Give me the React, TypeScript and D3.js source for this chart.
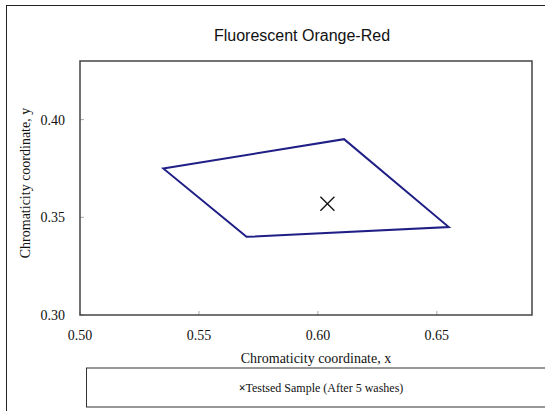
import * as d3 from "d3";

// CIE chromaticity boundary for the colour (closed polygon)
const boundaryX = [0.535, 0.611, 0.655, 0.57];
const boundaryY = [0.375, 0.39, 0.345, 0.34];

// tested sample after 5 washes
const sampleX = [0.604];
const sampleY = [0.357];

const xTicks = [0.5, 0.55, 0.6, 0.65];
const yTicks = [0.3, 0.35, 0.4];

const W = 545;
const H = 411;
const PLOT = { left: 80, right: 532, top: 61, bottom: 315 };
const SERIF = "'Liberation Serif', 'Times New Roman', serif";
const SANS = "'Liberation Sans', Arial, sans-serif";
const NAVY = "#1f1f86";

export default function App() {
  const x = d3.scaleLinear().domain([0.5, 0.69]).range([PLOT.left, PLOT.right]);
  const y = d3.scaleLinear().domain([0.3, 0.43]).range([PLOT.bottom, PLOT.top]);

  const pts: [number, number][] = boundaryX.map((v, i) => [x(v), y(boundaryY[i])]);
  const line = d3.line().curve(d3.curveLinearClosed);

  const midY = (PLOT.top + PLOT.bottom) / 2;

  return (
    <svg
      width={W}
      height={H}
      style={{ position: "fixed", left: 0, top: 0, background: "#fff" }}
    >
      {/* outer frame, runs off the right and bottom edge */}
      <rect x={6.5} y={5.5} width={W + 10} height={H + 10} fill="none" stroke="#222" />

      <text
        x={302}
        y={41}
        textAnchor="middle"
        style={{ font: `16px ${SANS}` }}
        fill="#111"
      >
        Fluorescent Orange-Red
      </text>

      {/* ticks, drawn inward */}
      {xTicks.map((t) => (
        <g key={`xt-${t}`}>
          <line x1={x(t)} x2={x(t)} y1={PLOT.bottom} y2={PLOT.bottom - 4} stroke="#aaa" />
          <text
            x={x(t)}
            y={PLOT.bottom + 25}
            textAnchor="middle"
            style={{ font: `14px ${SERIF}` }}
            fill="#111"
          >
            {t.toFixed(2)}
          </text>
        </g>
      ))}
      {yTicks.map((t) => (
        <g key={`yt-${t}`}>
          <line x1={PLOT.left} x2={PLOT.left + 4} y1={y(t)} y2={y(t)} stroke="#aaa" />
          <text
            x={PLOT.left - 15}
            y={y(t)}
            dy="0.35em"
            textAnchor="end"
            style={{ font: `14px ${SERIF}` }}
            fill="#111"
          >
            {t.toFixed(2)}
          </text>
        </g>
      ))}

      <rect
        x={PLOT.left}
        y={PLOT.top}
        width={PLOT.right - PLOT.left}
        height={PLOT.bottom - PLOT.top}
        fill="none"
        stroke="#444"
        strokeWidth={1.5}
      />

      <path d={line(pts) ?? ""} fill="none" stroke={NAVY} strokeWidth={2} />

      {sampleX.map((v, i) => {
        const cx = x(v);
        const cy = y(sampleY[i]);
        const s = 7;
        return (
          <g key={`s-${i}`} stroke="#111" strokeWidth={1.4}>
            <line x1={cx - s} y1={cy - s} x2={cx + s} y2={cy + s} />
            <line x1={cx - s} y1={cy + s} x2={cx + s} y2={cy - s} />
          </g>
        );
      })}

      <text
        x={(PLOT.left + PLOT.right) / 2 + 10}
        y={363}
        textAnchor="middle"
        style={{ font: `14px ${SERIF}` }}
        fill="#111"
      >
        Chromaticity coordinate, x
      </text>
      <text
        transform={`translate(30, ${midY - 5}) rotate(-90)`}
        textAnchor="middle"
        style={{ font: `14px ${SERIF}` }}
        fill="#111"
      >
        Chromaticity coordinate, y
      </text>

      {/* legend */}
      <rect x={86.5} y={368} width={W} height={39} fill="none" stroke="#333" />
      <text
        x={321}
        y={392}
        textAnchor="middle"
        style={{ font: `12px ${SERIF}` }}
        fill="#111"
      >
        <tspan fontWeight="bold">×</tspan>Testsed Sample (After 5 washes)
      </text>
    </svg>
  );
}
